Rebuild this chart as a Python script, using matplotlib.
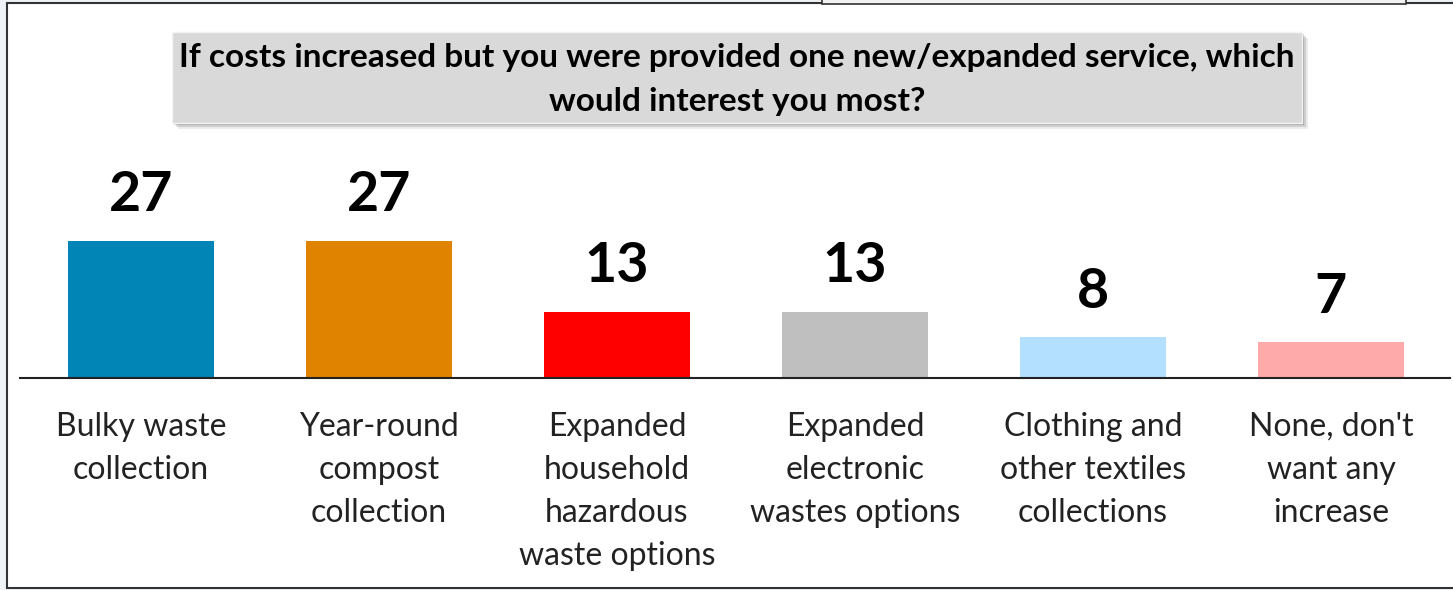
# Survey bar chart: which new/expanded service people want if costs went up
import matplotlib.pyplot as plt
from matplotlib.patches import Rectangle

categories = ["Bulky waste\ncollection",
              "Year-round\ncompost\ncollection",
              "Expanded\nhousehold\nhazardous\nwaste options",
              "Expanded\nelectronic\nwastes options",
              "Clothing and\nother textiles\ncollections",
              "None, don't\nwant any\nincrease"]
values = [27, 27, 13, 13, 8, 7]
colors = ["#0085b6", "#e08300", "#ff0000", "#bfbfbf", "#b3e0ff", "#ffaaaa"]
title = ("If costs increased but you were provided one new/expanded service, which\n"
         "would interest you most?")

W, H = 1453, 590


def main():
    fig = plt.figure(figsize=(W / 100, H / 100), dpi=100)
    fig.patch.set_facecolor("#eef2f4")

    # white panel with a dark border
    fig.patches.append(Rectangle((7 / W, 1 - 588 / H), 1.2, 585 / H, transform=fig.transFigure,
                                 facecolor="white", edgecolor="#333333", lw=1.5, zorder=-10))
    # edge of another panel peeking in at the top
    fig.patches.append(Rectangle((822 / W, 1 - 4 / H), 584 / W, 0.05, transform=fig.transFigure,
                                 facecolor="#f2f2f2", edgecolor="#333333", lw=1.2, zorder=-9))

    # title box with soft shadow
    bx, by, bw, bh = 172, 32, 1130, 91
    for k, a in [(6, 0.08), (4, 0.12), (2, 0.18)]:
        fig.patches.append(Rectangle(((bx + k) / W, 1 - (by + bh + k) / H), bw / W, bh / H,
                                     transform=fig.transFigure, facecolor="black",
                                     edgecolor="none", alpha=a, zorder=1))
    fig.patches.append(Rectangle((bx / W, 1 - (by + bh) / H), bw / W, bh / H,
                                 transform=fig.transFigure, facecolor="#d9d9d9",
                                 edgecolor="#f4f4f4", lw=1, zorder=2))
    fig.text((bx + bw / 2) / W, 1 - (by + bh / 2 + 2) / H, title, ha="center", va="center",
             fontsize=24, fontweight="bold", family="Lato", linespacing=1.65, zorder=3)

    ax = fig.add_axes([20 / W, 1 - 378 / H, 1430 / W, 248 / H])
    ax.set_facecolor("none")
    x = range(len(values))
    bars = ax.bar(x, values, width=0.615, color=colors, zorder=2)
    ax.set_xlim(-0.508, 5.5)
    ax.set_ylim(0, 48.9)

    for b, v in zip(bars, values):
        ax.annotate(str(v), (b.get_x() + b.get_width() / 2, v), xytext=(0, 15),
                    textcoords="offset points", ha="center", va="bottom",
                    fontsize=40, fontweight="bold", family="Lato")

    ax.set_xticks(list(x))
    ax.set_xticklabels(categories, fontsize=23, family="Lato", color="#222222",
                       linespacing=1.54)
    ax.tick_params(axis="x", length=0, pad=24.5)
    ax.set_yticks([])
    for s in ["top", "left", "right"]:
        ax.spines[s].set_visible(False)
    ax.spines["bottom"].set_linewidth(1.5)
    ax.spines["bottom"].set_color("#222222")

    fig.savefig("out.png", dpi=100, facecolor=fig.get_facecolor())


main()
